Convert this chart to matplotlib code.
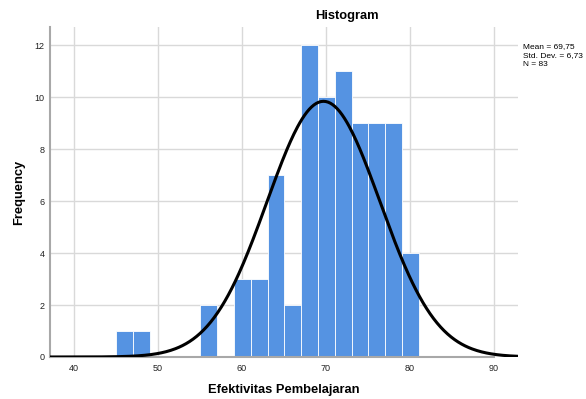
"""SPSS-style histogram of Efektivitas Pembelajaran with normal curve."""
import numpy as np
import matplotlib
matplotlib.use("Agg")
import matplotlib.pyplot as plt

# bin left edges (width 2) and frequencies
bin_lefts = [45.1, 47.1, 49.1, 51.1, 53.1, 55.1, 57.1, 59.1, 61.1, 63.1,
             65.1, 67.1, 69.1, 71.1, 73.1, 75.1, 77.1, 79.1]
counts = [1, 1, 0, 0, 0, 2, 0, 3, 3, 7, 2, 12, 10, 11, 9, 9, 9, 4]
bin_width = 2.0

mean = 69.75
sd = 6.73
n = 83

x_ticks = [40, 50, 60, 70, 80, 90]
y_ticks = [0, 2, 4, 6, 8, 10, 12]

plt.rcParams["font.family"] = ["Liberation Sans", "DejaVu Sans"]

W, H = 586, 399
fig = plt.figure(figsize=(W / 100, H / 100), dpi=100)
ax = fig.add_axes([50 / W, 1 - 357 / H, (518 - 50) / W, (357 - 27) / H])

xmin, xmax = 37.2, 92.9
ax.set_xlim(xmin, xmax)
ax.set_ylim(0, 12.7)

ax.set_xticks(x_ticks)
ax.set_yticks(y_ticks)
ax.grid(True, color="#d9d9d9", lw=1.0)
ax.set_axisbelow(True)

ax.bar(bin_lefts, counts, width=bin_width, align="edge",
       color="#5593e2", edgecolor="white", linewidth=0.6, zorder=2)

# normal curve scaled to counts
xs = np.linspace(xmin, xmax, 400)
ys = n * bin_width / (sd * np.sqrt(2 * np.pi)) * np.exp(-0.5 * ((xs - mean) / sd) ** 2)
ax.plot(xs, ys, color="black", lw=2.2, zorder=3, solid_capstyle="butt")

for side in ["top", "right"]:
    ax.spines[side].set_visible(False)
for side in ["left", "bottom"]:
    ax.spines[side].set_color("#a8a8a8")
    ax.spines[side].set_linewidth(1.5)
ax.spines["bottom"].set_bounds(xmin, 90)

ax.tick_params(length=0, labelsize=6.5, colors="#222222")
ax.tick_params(axis="x", pad=5)
ax.tick_params(axis="y", pad=4)

ax.set_xlabel("Efektivitas Pembelajaran", fontsize=9.3, fontweight="bold", labelpad=8)
ax.set_ylabel("Frequency", fontsize=9.3, fontweight="bold", labelpad=7)

fig.text(347 / W, 1 - 16 / H, "Histogram", ha="center", va="center",
         fontsize=9.3, fontweight="bold")
fig.text(523 / W, 1 - 43 / H, f"Mean = 69,75\nStd. Dev. = 6,73\nN = {n}",
         ha="left", va="top", fontsize=6, linespacing=1.35)

fig.savefig("out.png", dpi=100)
